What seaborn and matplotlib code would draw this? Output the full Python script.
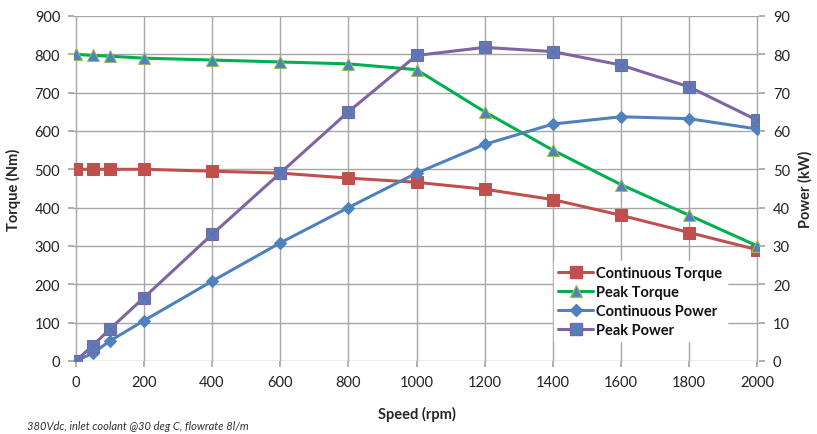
import matplotlib
matplotlib.use("Agg")
import matplotlib.pyplot as plt
import seaborn as sns
import pandas as pd
from matplotlib.lines import Line2D

speed = [0, 50, 100, 200, 400, 600, 800, 1000, 1200, 1400, 1600, 1800, 2000]
cont_torque = [500, 500, 500, 500, 495, 490, 477, 466, 448, 421, 380, 335, 290]
peak_torque = [800, 797, 795, 790, 785, 780, 775, 760, 650, 550, 460, 380, 300]
cont_power = [0, 2, 5.2, 10.5, 20.8, 30.8, 40, 49, 56.5, 61.8, 63.7, 63.2, 60.5]
peak_power = [0, 4, 8.3, 16.5, 33, 49, 65, 79.7, 81.8, 80.7, 77.2, 71.5, 62.8]

torque_ticks = list(range(0, 1000, 100))
power_ticks = list(range(0, 100, 10))
speed_ticks = list(range(0, 2200, 200))

sns.set_theme(style="white")
plt.rcParams['font.family'] = ['Lato', 'DejaVu Sans']

df = pd.DataFrame({"speed": speed, "ct": cont_torque, "pt": peak_torque,
                   "cp": cont_power, "pp": peak_power})

fig = plt.figure(figsize=(8.17, 4.35), dpi=100)
ax = fig.add_axes([0.0906, 0.168, 0.8384, 0.793])
ax2 = ax.twinx()

RED = "#C0504D"; GREEN = "#00B050"; BLUE = "#4F81BD"; PURPLE = "#8064A2"

sns.lineplot(data=df, x="speed", y="ct", ax=ax, color=RED, lw=2.2,
             marker="s", markersize=8, markerfacecolor=RED, markeredgecolor=RED)
sns.lineplot(data=df, x="speed", y="pt", ax=ax, color=GREEN, lw=2.2,
             marker="^", markersize=8, markerfacecolor=BLUE, markeredgecolor="#9BBB59")
sns.lineplot(data=df, x="speed", y="cp", ax=ax2, color=BLUE, lw=2.2,
             marker="D", markersize=6, markerfacecolor=BLUE, markeredgecolor=BLUE)
sns.lineplot(data=df, x="speed", y="pp", ax=ax2, color=PURPLE, lw=2.2,
             marker="s", markersize=9, markerfacecolor=BLUE, markeredgecolor=PURPLE,
             markeredgewidth=0.8)
sns.scatterplot(data=df, x="speed", y="pp", ax=ax2, marker="x", s=30,
                color=PURPLE, linewidth=1.0, zorder=5)

ax.set_xlim(-5, 2005)
ax.set_ylim(0, 900)
ax2.set_ylim(0, 90)
ax.set_xticks(speed_ticks)
ax.set_yticks(torque_ticks)
ax2.set_yticks(power_ticks)
ax.grid(True, color="#A6A6A6", lw=1.0)
ax.set_axisbelow(True)
for a in (ax, ax2):
    for s in a.spines.values():
        s.set_visible(False)
ax.tick_params(axis="both", which="both", length=4, color="#A6A6A6",
               labelsize=10.5, labelcolor="#222222", pad=6, left=True, bottom=True)
ax2.tick_params(axis="y", length=4, color="#A6A6A6", labelsize=10.5,
                labelcolor="#222222", pad=6, right=True)

ax.set_xlabel("Speed (rpm)", fontsize=10.5, fontweight="bold", labelpad=12)
ax.set_ylabel("Torque (Nm)", fontsize=10.5, fontweight="bold", labelpad=10)
ax2.set_ylabel("Power (kW)", fontsize=10.5, fontweight="bold", labelpad=6)

handles = [
    Line2D([], [], color=RED, lw=2.2, marker="s", markersize=8, markerfacecolor=RED, markeredgecolor=RED),
    Line2D([], [], color=GREEN, lw=2.2, marker="^", markersize=8, markerfacecolor=BLUE, markeredgecolor="#9BBB59"),
    Line2D([], [], color=BLUE, lw=2.2, marker="D", markersize=6, markerfacecolor=BLUE, markeredgecolor=BLUE),
    Line2D([], [], color=PURPLE, lw=2.2, marker="s", markersize=8, markerfacecolor=BLUE, markeredgecolor=PURPLE),
]
labels = ["Continuous Torque", "Peak Torque", "Continuous Power", "Peak Power"]
leg = ax2.legend(handles, labels, loc="upper left", bbox_to_anchor=(0.69, 0.31),
                 frameon=True, fancybox=False, framealpha=1, edgecolor="white",
                 fontsize=10.5, handlelength=2.4, handletextpad=0.2,
                 labelspacing=0.35, borderpad=0.3)
for t in leg.get_texts():
    t.set_fontweight("bold")
    t.set_color("#111111")

fig.text(0.033, 0.012, "380Vdc, inlet coolant @30 deg C, flowrate 8l/m",
         fontsize=8, style="italic", color="#333333")

fig.savefig("out.png", dpi=100)
